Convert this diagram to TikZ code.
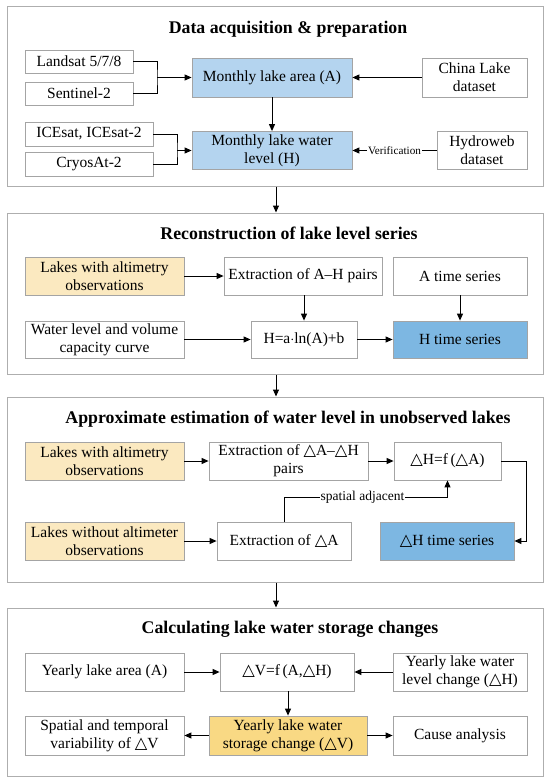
\documentclass[tikz,border=0pt]{standalone}
\usepackage{fontspec}
\setmainfont{Liberation Serif}
\newfontfamily\symfont[Scale=1.05]{DejaVu Sans}
\newcommand{\tri}{{\symfont\char"25B3}}
\usetikzlibrary{arrows.meta,calc}
\definecolor{framegray}{HTML}{AEAEAE}
\definecolor{boxgray}{HTML}{A4A4A4}
\definecolor{lblue}{HTML}{B4D4EF}
\definecolor{mblue}{HTML}{7DB7E2}
\definecolor{lyellow}{HTML}{FBE9C0}
\definecolor{dyellow}{HTML}{F9D984}
\tikzset{
  x=1pt, y=-1pt,
  frame/.style={draw=framegray, line width=1pt, inner sep=0pt},
  box/.style={draw=boxgray, line width=0.8pt, inner sep=0pt, align=center,
    font=\fontsize{15.5}{18}\selectfont},
  ttl/.style={font=\fontsize{17.8}{20}\selectfont\bfseries, inner sep=0pt},
  arr/.style={-{Triangle[length=7pt,width=6pt]}, line width=1pt},
  ln/.style={line width=1pt},
  lbl/.style={fill=white, inner sep=1pt},
}
\begin{document}
\begin{tikzpicture}
\useasboundingbox (0,0) rectangle (550,784);
% frames
\node[frame, minimum width=536, minimum height=179] (f1) at (275,96.5) {};
\node[frame, minimum width=536, minimum height=161] (f2) at (275,293.5) {};
\node[frame, minimum width=536, minimum height=185] (f3) at (275,489.5) {};
\node[frame, minimum width=536, minimum height=168] (f4) at (275,692) {};
% titles
\node[ttl] (t1) at (288,29) {Data acquisition \& preparation};
\node[ttl] (t2) at (289,233) {Reconstruction of lake level series};
\node[ttl] (t3) at (288,419) {Approximate estimation of water level in unobserved lakes};
\node[ttl] (t4) at (290,629) {Calculating lake water storage changes};
% section 1
\node[box, minimum width=108, minimum height=23] (landsat) at (79,61.5) {Landsat 5/7/8};
\node[box, minimum width=108, minimum height=23] (sentinel) at (79,93.5) {Sentinel-2};
\node[box, fill=lblue, minimum width=160, minimum height=39] (monA) at (272,77.5) {Monthly lake area (A)};
\node[box, minimum width=105, minimum height=39] (china) at (474.5,77.5) {China Lake\\dataset};
\node[box, minimum width=128, minimum height=24] (icesat) at (89,134) {ICEsat, ICEsat-2};
\node[box, minimum width=128, minimum height=24] (cryos) at (89,164) {CryosAt-2};
\node[box, fill=lblue, minimum width=160, minimum height=38] (monH) at (272,150.5) {Monthly lake water\\level (H)};
\node[box, minimum width=90, minimum height=38] (hydro) at (482,150.5) {Hydroweb\\dataset};
\coordinate (j1) at (157,77.5);
\coordinate (j2) at (177,150.5);
\draw[ln] (landsat.east) -| (j1) |- (sentinel.east);
\draw[arr] (j1) -- (monA.west);
\draw[ln] (icesat.east) -| (j2) |- (cryos.east);
\draw[arr] (j2) -- (monH.west);
\draw[arr] (china.west) -- (monA.east);
\draw[arr] (monA.south) -- (monH.north);
\draw[arr] (hydro.west) -- node[lbl, font=\fontsize{11.2}{13}\selectfont]{Verification} (monH.east);
% section 2
\node[box, fill=lyellow, minimum width=159, minimum height=38] (lw1) at (104.5,276) {Lakes with altimetry\\observations};
\node[box, minimum width=158, minimum height=38] (ext1) at (303,276) {Extraction of A–H pairs};
\node[box, minimum width=134, minimum height=38] (ats) at (460,276) {A time series};
\node[box, minimum width=159, minimum height=37] (wl) at (104.5,339.5) {Water level and volume\\capacity curve};
\node[box, minimum width=106, minimum height=37] (heq) at (304,339.5) {H=a$\cdot$ln(A)+b};
\node[box, fill=mblue, minimum width=134, minimum height=37] (hts) at (460,339.5) {H time series};
\draw[arr] (lw1.east) -- (ext1.west);
\draw[arr] (heq.north |- ext1.south) -- (heq.north);
\draw[arr] (ats.south) -- (hts.north);
\draw[arr] (wl.east) -- (heq.west);
\draw[arr] (heq.east) -- (hts.west);
% section 3
\node[box, fill=lyellow, minimum width=159, minimum height=38] (lw2) at (104.5,461) {Lakes with altimetry\\observations};
\node[box, minimum width=159, minimum height=38] (ext2) at (288.5,461) {Extraction of \tri A–\tri H\\pairs};
\node[box, minimum width=107, minimum height=38] (dhf) at (447.5,461) {\tri H=f\,(\tri A)};
\node[box, fill=lyellow, minimum width=159, minimum height=38] (lwo) at (104.5,541) {Lakes without altimeter\\observations};
\node[box, minimum width=134, minimum height=38] (exda) at (284,541) {Extraction of \tri A};
\node[box, fill=mblue, minimum width=134, minimum height=38] (dhts) at (447,541) {\tri H time series};
\coordinate (sa) at (447.5,497);
\draw[arr] (lw2.east) -- (ext2.west);
\draw[arr] (ext2.east) -- (dhf.west);
\draw[arr] (lwo.east) -- (exda.west);
\draw[arr] (dhf.east) -- ++(25,0) |- (dhts.east);
\draw[arr] (exda.north) |- node[pos=0.74, lbl, font=\fontsize{13.5}{15}\selectfont]{spatial adjacent} (sa) -- (dhf.south);
% section 4
\node[box, minimum width=159, minimum height=38] (yla) at (104.5,672) {Yearly lake area (A)};
\node[box, minimum width=134, minimum height=38] (dvf) at (287,672) {\tri V=f\,(A,\tri H)};
\node[box, minimum width=134, minimum height=38] (ylc) at (460,672) {Yearly lake water\\level change (\tri H)};
\node[box, minimum width=159, minimum height=39] (spv) at (104.5,735.5) {Spatial and temporal\\variability of \tri V};
\node[box, fill=dyellow, minimum width=158, minimum height=39] (ylsc) at (288,735.5) {Yearly lake water\\storage change (\tri V)};
\node[box, minimum width=134, minimum height=39] (cause) at (460,735.5) {Cause analysis};
\draw[arr] (yla.east) -- (dvf.west);
\draw[arr] (ylc.west) -- (dvf.east);
\draw[arr] (ylsc.north |- dvf.south) -- (ylsc.north);
\draw[arr] (ylsc.west) -- (spv.east);
\draw[arr] (ylsc.east) -- (cause.west);
% between frames
\draw[arr] (f1.south) ++(1,0) coordinate (a1) -- (a1 |- f2.north);
\draw[arr] (f2.south) ++(1,0) coordinate (a2) -- (a2 |- f3.north);
\draw[arr] (f3.south) ++(1,0) coordinate (a3) -- (a3 |- f4.north);
\end{tikzpicture}
\end{document}
